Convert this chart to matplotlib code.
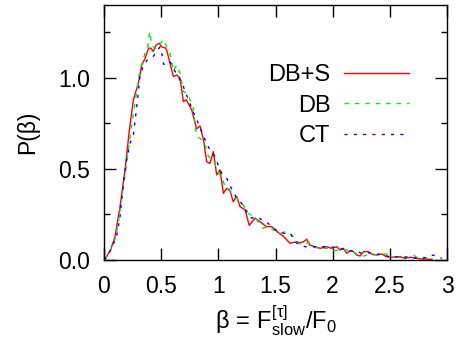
import matplotlib
matplotlib.use("Agg")
import matplotlib.pyplot as plt
from matplotlib.ticker import MultipleLocator, FormatStrFormatter

plt.rcParams['font.family'] = ['Liberation Sans', 'DejaVu Sans']
plt.rcParams['mathtext.fontset'] = 'custom'
plt.rcParams['mathtext.rm'] = 'Liberation Sans'
plt.rcParams['mathtext.it'] = 'Liberation Sans'
plt.rcParams['mathtext.bf'] = 'Liberation Sans:bold'

# ---------------------------
# Data
# ---------------------------

# DB+S (red, solid)
dbs_x = [0, 0.023, 0.06, 0.096, 0.14, 0.184, 0.222, 0.257, 0.30, 0.33, 0.36, 0.39, 0.41, 0.43,
         0.455, 0.484, 0.505, 0.534, 0.548, 0.577, 0.607, 0.636, 0.665, 0.694, 0.72, 0.767,
         0.81, 0.84, 0.87, 0.898, 0.927, 0.956, 0.986, 1.015, 1.044, 1.073, 1.10, 1.13, 1.16,
         1.19, 1.234, 1.27, 1.32, 1.365, 1.42, 1.467, 1.525, 1.57, 1.627, 1.686, 1.715, 1.744,
         1.773, 1.80, 1.846, 1.89, 1.948, 1.99, 2.036, 2.065, 2.094, 2.123, 2.152, 2.18,
         2.21, 2.24, 2.27, 2.31, 2.34, 2.386, 2.43, 2.47, 2.53, 2.59, 2.63, 2.68, 2.735,
         2.79, 2.87]
dbs_y = [0, 0.018, 0.06, 0.128, 0.293, 0.495, 0.714, 0.88, 0.97, 1.07, 1.108, 1.163, 1.163,
         1.145, 1.18, 1.19, 1.17, 1.165, 1.154, 1.08, 1.007, 1.016, 0.998, 0.87, 0.88, 0.824,
         0.72, 0.736, 0.66, 0.54, 0.53, 0.595, 0.467, 0.495, 0.366, 0.393, 0.385, 0.32, 0.348,
         0.293, 0.275, 0.19, 0.23, 0.21, 0.183, 0.183, 0.15, 0.13, 0.092, 0.10, 0.095, 0.10,
         0.114, 0.082, 0.073, 0.064, 0.073, 0.064, 0.073, 0.055, 0.064, 0.037, 0.051, 0.046,
         0.027, 0.022, 0.046, 0.046, 0.033, 0.027, 0.033, 0.018, 0.015, 0.018, 0.009, 0.015,
         0.009, 0.005, 0.004]

# DB (green, dashed)
db_x = [0, 0.038, 0.105, 0.146, 0.19, 0.236, 0.27, 0.315, 0.359, 0.379, 0.40, 0.417, 0.446,
        0.475, 0.505, 0.525, 0.548, 0.577, 0.607, 0.636, 0.665, 0.694, 0.73, 0.752, 0.78,
        0.81, 0.84, 0.884, 0.913, 0.956, 1.0, 1.03, 1.06, 1.087, 1.13, 1.175, 1.22, 1.26,
        1.31, 1.35, 1.39, 1.44, 1.48, 1.54, 1.58, 1.627, 1.656, 1.70, 1.744, 1.79, 1.817,
        1.89, 1.948, 2.006, 2.065, 2.123, 2.18, 2.24, 2.30, 2.356, 2.415, 2.47, 2.53, 2.59,
        2.65, 2.706, 2.75, 2.79, 2.85]
db_y = [0, 0.027, 0.128, 0.293, 0.495, 0.714, 0.86, 1.044, 1.135, 1.154, 1.254, 1.18, 1.163,
        1.163, 1.2, 1.21, 1.17, 1.135, 1.035, 1.07, 1.026, 0.925, 0.916, 0.88, 0.833,
        0.677, 0.668, 0.63, 0.568, 0.55, 0.476, 0.458, 0.40, 0.385, 0.366, 0.33, 0.30, 0.256,
        0.238, 0.21, 0.174, 0.183, 0.165, 0.146, 0.155, 0.146, 0.128, 0.092, 0.082, 0.10, 0.073,
        0.064, 0.064, 0.051, 0.055, 0.055, 0.046, 0.018, 0.027, 0.027, 0.033, 0.033, 0.018, 0.013,
        0.015, 0.027, 0.009, 0.015, 0.009]

# CT (blue, short dashes)
ct_x = [0, 0.038, 0.11, 0.14, 0.163, 0.192, 0.227, 0.257, 0.286, 0.315, 0.344, 0.38, 0.41,
        0.43, 0.46, 0.49, 0.505, 0.52, 0.548, 0.577, 0.607, 0.65, 0.694, 0.738, 0.78, 0.825,
        0.87, 0.913, 0.97, 1.0, 1.03, 1.073, 1.10, 1.13, 1.16, 1.205, 1.25, 1.29, 1.336, 1.38,
        1.42, 1.467, 1.525, 1.58, 1.627, 1.67, 1.715, 1.76, 1.817, 1.86, 1.92, 1.977, 2.065,
        2.15, 2.21, 2.25, 2.33, 2.386, 2.46, 2.5, 2.59, 2.68, 2.75, 2.79, 2.88, 2.955]
ct_y = [0, 0.027, 0.128, 0.238, 0.385, 0.53, 0.64, 0.687, 0.84, 1.007, 1.07, 1.10, 1.108,
        1.117, 1.145, 1.17, 1.135, 1.075, 1.075, 1.09, 1.05, 1.007, 0.952, 0.88, 0.815, 0.75,
        0.68, 0.62, 0.568, 0.52, 0.476, 0.449, 0.41, 0.375, 0.34, 0.31, 0.265, 0.23, 0.238, 0.22,
        0.21, 0.183, 0.155, 0.146, 0.15, 0.10, 0.082, 0.073, 0.073, 0.073, 0.073, 0.073, 0.064,
        0.051, 0.049, 0.037, 0.04, 0.033, 0.027, 0.015, 0.018, 0.015, 0.009, 0.009, 0.027, 0.009]

x_ticks = [0, 0.5, 1, 1.5, 2, 2.5, 3]
x_tick_labels = ['0', '0.5', '1', '1.5', '2', '2.5', '3']

# ---------------------------
# Plot
# ---------------------------
fig = plt.figure(figsize=(4.57, 3.42), dpi=100)
ax = fig.add_axes([104 / 457, 1 - 260 / 342, 343 / 457, 255 / 342])

ax.plot(dbs_x, dbs_y, color='#ff0000', lw=1.0, label='DB+S')
ax.plot(db_x, db_y, color='#00ee00', lw=1.0, dashes=(3.2, 4.3), label='DB')
ax.plot(ct_x, ct_y, color='#0000ff', lw=1.0, dashes=(2.2, 4.5), label='CT')

ax.set_xlim(0, 3)
ax.set_ylim(0, 1.4)
ax.set_xticks(x_ticks)
ax.set_xticklabels(x_tick_labels)
ax.yaxis.set_major_locator(MultipleLocator(0.5))
ax.yaxis.set_minor_locator(MultipleLocator(0.25))
ax.yaxis.set_major_formatter(FormatStrFormatter('%.1f'))

ax.tick_params(which='both', direction='in', top=True, right=True, labelsize=16.5, width=1.0)
ax.tick_params(which='major', length=8.5)
ax.tick_params(which='minor', length=4.3)
ax.tick_params(axis='x', pad=11)
ax.tick_params(axis='y', pad=10)
for s in ax.spines.values():
    s.set_linewidth(1.0)

ax.set_ylabel('P(β)', fontsize=16.5, labelpad=14)
ax.set_xlabel(r'$\mathrm{\beta\,=\,F^{[\tau]}_{slow}/F_0}$', fontsize=17, labelpad=4)

ax.legend(loc='upper right', bbox_to_anchor=(409 / 457, 1 - 64 / 342), bbox_transform=fig.transFigure,
          frameon=False, markerfirst=False, fontsize=17, handlelength=2.75, handletextpad=0.58,
          labelspacing=0.36, borderpad=0, borderaxespad=0)

fig.savefig('out.png', dpi=100)
